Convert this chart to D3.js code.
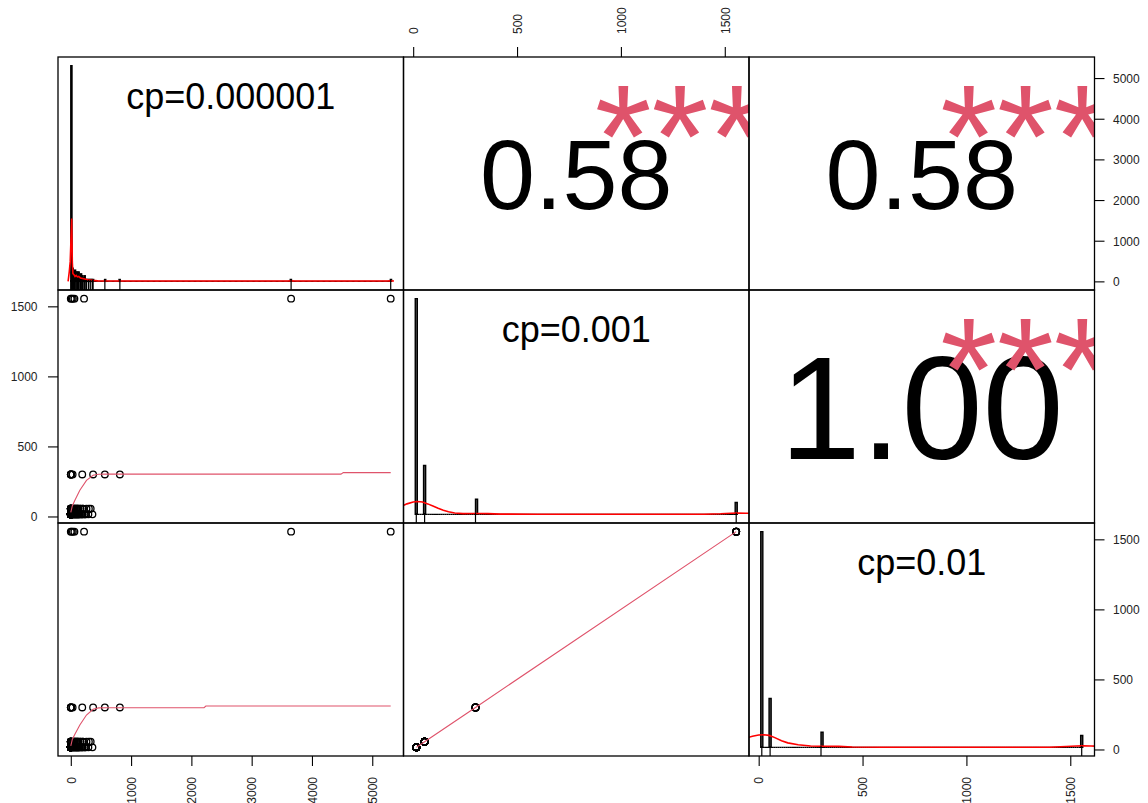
<!DOCTYPE html>
<html>
<head>
<meta charset="utf-8">
<script src="https://cdn.jsdelivr.net/npm/d3@7"></script>
<style>
  body { margin: 0; background: #fff; }
  svg { display: block; }
  text { font-family: "Liberation Sans", Arial, sans-serif; }
</style>
</head>
<body>
<svg id="chart" width="1148" height="803"></svg>
<script>
// ---- variables -------------------------------------------------------
const varNames = ["cp=0.000001", "cp=0.001", "cp=0.01"];

// ---- observations (one row per distinct triple, with repeat count) -----
const obsA = [0, 10, 30, 50, 70, 90, 110, 130, 150, 175, 195, 230, 250, 292, 359,
              0, 25, 45, 65, 85, 105, 125, 160, 200, 260, 300, 330,
              0, 5, 30, 190, 370, 565, 814,
              0, 15, 35, 60, 220, 3654, 5306];
const obsB = [15, 15, 15, 15, 15, 15, 15, 15, 15, 15, 15, 15, 15, 15, 15,
              55, 55, 55, 55, 55, 55, 55, 55, 55, 55, 55, 55,
              300, 300, 300, 300, 300, 300, 300,
              1555, 1555, 1555, 1555, 1555, 1555, 1555];
const obsC = [15, 15, 15, 15, 15, 15, 15, 15, 15, 15, 15, 15, 15, 15, 15,
              55, 55, 55, 55, 55, 55, 55, 55, 55, 55, 55, 55,
              300, 300, 300, 300, 300, 300, 300,
              1555, 1555, 1555, 1555, 1555, 1555, 1555];
const obsN = [95, 4, 3, 3, 3, 3, 3, 3, 2, 2, 2, 2, 1, 1, 1,
              10, 2, 2, 2, 2, 2, 2, 2, 2, 1, 1, 1,
              3, 1, 1, 1, 1, 1, 1,
              1, 1, 1, 1, 1, 1, 1];

// histogram bin widths per variable
const binWidths = [20, 10, 10];

// kernel density curves (value, density)
const kdeAx = [-45, -25, -10, 5, 15, 25, 35, 50, 70, 90, 110, 130, 160, 190, 230, 280, 360, 450, 600, 3600, 3654, 3710, 5250, 5306, 5360];
const kdeAy = [0.00000, 0.00150, 0.00300, 0.00700, 0.00970, 0.00300, 0.00120, 0.00107, 0.00076, 0.00092, 0.00069, 0.00076, 0.00053, 0.00046, 0.00038, 0.00023, 0.00015, 0.00008, 0.00005, 0.00005, 0.00009, 0.00005, 0.00005, 0.00009, 0.00005];
const kdeBx = [-60, -30, 0, 20, 45, 70, 95, 120, 145, 170, 200, 240, 280, 320, 360, 420, 600, 1400, 1480, 1530, 1560, 1600, 1640];
const kdeBy = [0.00264, 0.00360, 0.00425, 0.00439, 0.00422, 0.00360, 0.00285, 0.00209, 0.00144, 0.00093, 0.00045, 0.00027, 0.00031, 0.00031, 0.00024, 0.00010, 0.00003, 0.00003, 0.00021, 0.00041, 0.00048, 0.00041, 0.00031];
const kdeCx = [-60, -30, 0, 25, 50, 75, 110, 140, 190, 250, 300, 386, 450, 600, 1400, 1480, 1530, 1560, 1600, 1640];
const kdeCy = [0.00320, 0.00380, 0.00422, 0.00432, 0.00411, 0.00343, 0.00226, 0.00154, 0.00089, 0.00048, 0.00041, 0.00034, 0.00012, 0.00005, 0.00005, 0.00030, 0.00048, 0.00052, 0.00047, 0.00040];

// smoothed trend lines for the scatter panels
const smoothBAx = [0, 25, 70, 150, 260, 370, 460, 600, 4480, 4520, 5306];
const smoothBAy = [30, 75, 118, 187, 258, 294, 301, 302, 302, 313, 313];
const smoothCAx = [0, 25, 70, 150, 260, 370, 460, 600, 2210, 2240, 5306];
const smoothCAy = [25, 72, 110, 175, 246, 287, 297, 298, 298, 310, 310];
const smoothCBx = [15, 55, 300, 1555];
const smoothCBy = [15, 55, 300, 1555];

// correlations shown in the upper panels: (row, col)
const corRows = [0, 0, 1];
const corCols = [1, 2, 2];
const corValues = [0.58, 0.58, 1.00];
const corStars = ["***", "***", "***"];

// axis tick values
const ticksA = [0, 1000, 2000, 3000, 4000, 5000];
const ticksB = [0, 500, 1000, 1500];
const ticksC = [0, 500, 1000, 1500];

(function () {
// ---- layout -----------------------------------------------------------
const W = 1148, H = 803;
const x0 = 58, y0 = 57, pw = 345.5, ph = 233;
const starColor = "#DF536B";

const svg = d3.select("#chart");
svg.append("rect").attr("width", W).attr("height", H).attr("fill", "#fff");

const rows = obsA.map((a, i) => ({ a, b: obsB[i], c: obsC[i], n: obsN[i] }));
const data = rows.flatMap(r => d3.range(r.n).map(() => [r.a, r.b, r.c]));
const cols = [0, 1, 2].map(k => data.map(d => d[k]));

function expand(ext) {
  const d = (ext[1] - ext[0]) * 0.04;
  return [ext[0] - d, ext[1] + d];
}
const xScales = [0, 1, 2].map(k => d3.scaleLinear()
  .domain(expand(d3.extent(cols[k]))).range([x0 + k * pw, x0 + (k + 1) * pw]));
const yScales = [0, 1, 2].map(k => d3.scaleLinear()
  .domain(expand(d3.extent(cols[k]))).range([y0 + (k + 1) * ph, y0 + k * ph]));

// clip regions per panel
const defs = svg.append("defs");
for (let i = 0; i < 3; i++) for (let j = 0; j < 3; j++) {
  defs.append("clipPath").attr("id", `clip-${i}-${j}`)
    .append("rect").attr("x", x0 + j * pw).attr("y", y0 + i * ph)
    .attr("width", pw).attr("height", ph);
}

// ---- diagonal: histogram, density, rug, name ----------------------------
const kdes = [[kdeAx, kdeAy], [kdeBx, kdeBy], [kdeCx, kdeCy]];
for (let k = 0; k < 3; k++) {
  const g = svg.append("g").attr("clip-path", `url(#clip-${k}-${k})`);
  const vals = cols[k];
  const w = binWidths[k];
  const lo = Math.floor(d3.min(vals) / w) * w;
  const hi = Math.ceil(d3.max(vals) / w) * w;
  const bins = d3.bin().domain([lo, hi]).thresholds(d3.range(lo + w, hi, w))(vals);
  const n = vals.length;
  bins.forEach(b => b.density = b.length / (n * w));
  const dmax = d3.max(bins, b => b.density);
  const x = xScales[k];
  const y = d3.scaleLinear().domain([-0.04 * dmax, 1.04 * dmax])
    .range([y0 + (k + 1) * ph, y0 + k * ph]);

  g.selectAll("path.bar").data(bins).join("path")
    .attr("class", "bar")
    .attr("d", b => `M${x(b.x0)},${y(0)}V${y(b.density)}H${x(b.x1)}V${y(0)}Z`)
    .attr("fill", "#555").attr("stroke", "#000").attr("stroke-width", 1.4);

  const [kx, ky] = kdes[k];
  g.append("path")
    .datum(kx.map((v, i) => [v, ky[i]]))
    .attr("d", d3.line().x(d => x(d[0])).y(d => y(d[1])))
    .attr("fill", "none").attr("stroke", "#ff0000").attr("stroke-width", 1.6);

  const bottom = y0 + (k + 1) * ph;
  g.selectAll("line.rug").data(Array.from(new Set(vals))).join("line")
    .attr("class", "rug")
    .attr("x1", d => x(d)).attr("x2", d => x(d))
    .attr("y1", bottom).attr("y2", bottom - 10)
    .attr("stroke", "#000").attr("stroke-width", 1.2);

  g.append("text")
    .attr("x", x0 + (k + 0.5) * pw)
    .attr("y", y0 + k * ph + ph * (1 - 0.8333))
    .attr("dy", "0.358em")
    .attr("text-anchor", "middle")
    .attr("font-size", 36)
    .attr("fill", "#000")
    .text(varNames[k]);
}

// ---- lower panels: scatter with smooth line -------------------------------
const smooths = { "1-0": [smoothBAx, smoothBAy], "2-0": [smoothCAx, smoothCAy], "2-1": [smoothCBx, smoothCBy] };
for (let i = 1; i < 3; i++) for (let j = 0; j < i; j++) {
  const g = svg.append("g").attr("clip-path", `url(#clip-${i}-${j})`);
  const x = xScales[j], y = yScales[i];
  g.selectAll("circle").data(data).join("circle")
    .attr("cx", d => x(d[j])).attr("cy", d => y(d[i])).attr("r", 3.3)
    .attr("fill", "none").attr("stroke", "#000").attr("stroke-width", 1.3);
  const [sx, sy] = smooths[`${i}-${j}`];
  g.append("path")
    .datum(sx.map((v, t) => [v, sy[t]]))
    .attr("d", d3.line().x(d => x(d[0])).y(d => y(d[1])))
    .attr("fill", "none").attr("stroke", starColor).attr("stroke-width", 1.1);
}

// ---- upper panels: correlation and significance ---------------------------
const baseFont = 146;
corValues.forEach((r, t) => {
  const i = corRows[t], j = corCols[t];
  const g = svg.append("g").attr("clip-path", `url(#clip-${i}-${j})`);
  const fs = baseFont * (Math.abs(r) + 0.3) / 1.3;
  g.append("text")
    .attr("x", x0 + (j + 0.5) * pw)
    .attr("y", y0 + (i + 0.5) * ph)
    .attr("dy", "0.358em")
    .attr("text-anchor", "middle")
    .attr("font-size", fs)
    .attr("fill", "#000")
    .text(r.toFixed(2));
  g.append("text")
    .attr("x", x0 + j * pw + 0.8 * pw)
    .attr("y", y0 + (i + 1) * ph - 0.8 * ph)
    .attr("dy", "0.57em")
    .attr("text-anchor", "middle")
    .attr("font-size", baseFont)
    .attr("fill", starColor)
    .text(corStars[t]);
});

// ---- axes ----------------------------------------------------------------
function styleAxis(g) {
  g.select(".domain").remove();
  g.selectAll(".tick line").attr("stroke", "#000").attr("stroke-width", 1.1);
  g.selectAll(".tick text").attr("font-size", 12).attr("fill", "#222")
    .attr("font-family", "\"Liberation Sans\", Arial, sans-serif");
}
// top (cp=0.001)
svg.append("g").attr("transform", `translate(0,${y0})`)
  .call(d3.axisTop(xScales[1]).tickValues(ticksB).tickSize(10).tickFormat(d3.format("d")))
  .call(styleAxis)
  .call(g => g.selectAll(".tick text")
    .attr("x", 0).attr("y", 0).attr("dy", "0.358em")
    .attr("transform", "translate(0,-23) rotate(-90)")
    .attr("text-anchor", "start"));
// bottom (cp=0.000001 and cp=0.01)
[[0, ticksA], [2, ticksC]].forEach(([k, tv]) => {
  svg.append("g").attr("transform", `translate(0,${y0 + 3 * ph})`)
    .call(d3.axisBottom(xScales[k]).tickValues(tv).tickSize(10).tickFormat(d3.format("d")))
    .call(styleAxis)
    .call(g => g.selectAll(".tick text")
      .attr("x", 0).attr("y", 0).attr("dy", "0.358em")
      .attr("transform", "translate(0,21) rotate(-90)")
      .attr("text-anchor", "end"));
});
// left (cp=0.001)
svg.append("g").attr("transform", `translate(${x0},0)`)
  .call(d3.axisLeft(yScales[1]).tickValues(ticksB).tickSize(10).tickPadding(10.5).tickFormat(d3.format("d")))
  .call(styleAxis)
  .call(g => g.selectAll(".tick text").attr("dy", "0.358em"));
// right (cp=0.000001 and cp=0.01)
[[0, ticksA], [2, ticksC]].forEach(([k, tv]) => {
  svg.append("g").attr("transform", `translate(${x0 + 3 * pw},0)`)
    .call(d3.axisRight(yScales[k]).tickValues(tv).tickSize(10).tickPadding(8.5).tickFormat(d3.format("d")))
    .call(styleAxis)
    .call(g => g.selectAll(".tick text").attr("dy", "0.358em"));
});

// ---- panel frames ----------------------------------------------------------
for (let i = 0; i < 3; i++) for (let j = 0; j < 3; j++) {
  svg.append("rect")
    .attr("x", x0 + j * pw).attr("y", y0 + i * ph)
    .attr("width", pw).attr("height", ph)
    .attr("fill", "none").attr("stroke", "#000").attr("stroke-width", 1.3);
}
})();
</script>
</body>
</html>
